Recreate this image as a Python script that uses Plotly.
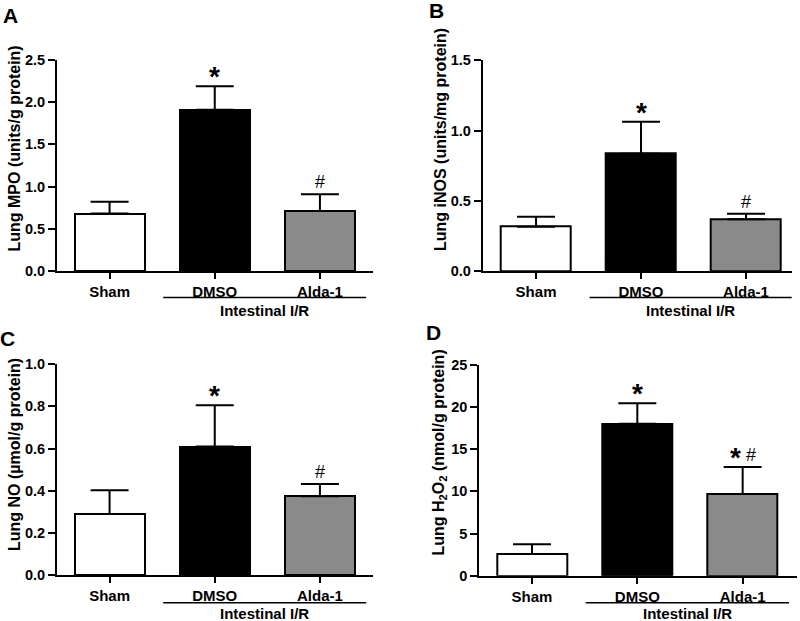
import plotly.graph_objects as go

# ---------------- data ----------------
categories = ["Sham", "DMSO", "Alda-1"]

mpo_mean = [0.68, 1.91, 0.71]
mpo_sem = [0.14, 0.28, 0.20]

inos_mean = [0.315, 0.835, 0.368]
inos_sem = [0.072, 0.228, 0.040]

no_mean = [0.290, 0.609, 0.374]
no_sem = [0.112, 0.196, 0.058]

h2o2_mean = [2.57, 18.03, 9.69]
h2o2_sem = [1.15, 2.42, 3.21]

mpo_marks = ["", "*", "#"]
inos_marks = ["", "*", "#"]
no_marks = ["", "*", "#"]
h2o2_marks = ["", "*", "*#"]

group_label = "Intestinal I/R"
bar_colors = ["white", "black", "#8a8a8a"]

W, H = 800, 621
FONT = "Liberation Sans, Arial, sans-serif"


def px(x):
    return x / W


def py(y):
    return 1 - y / H


panels = [
    dict(letter="A", mean=mpo_mean, sem=mpo_sem, marks=mpo_marks,
         title="Lung MPO (units/g protein)", yrange=[0, 2.5], dtick=0.5, fmt=".1f",
         x0=57, x1=372.5, ytop=60, ybot=271, xr=[-0.5, 2.5],
         title_xy=(14, 148.5), letter_xy=(10.5, 15.5), line_y=297.5, text_y=310),
    dict(letter="B", mean=inos_mean, sem=inos_sem, marks=inos_marks,
         title="Lung iNOS (units/mg protein)", yrange=[0, 1.5], dtick=0.5, fmt=".1f",
         x0=482.7, x1=791.7, ytop=60.3, ybot=271, xr=[-0.508, 2.435],
         title_xy=(440, 140), letter_xy=(436.5, 11), line_y=297.5, text_y=310),
    dict(letter="C", mean=no_mean, sem=no_sem, marks=no_marks,
         title="Lung NO (µmol/g protein)", yrange=[0, 1.0], dtick=0.2, fmt=".1f",
         x0=57, x1=372.5, ytop=364, ybot=575.3, xr=[-0.5, 2.5],
         title_xy=(14, 455), letter_xy=(7.5, 338.5), line_y=602.7, text_y=613),
    dict(letter="D", mean=h2o2_mean, sem=h2o2_sem, marks=h2o2_marks,
         title="Lung H<sub>2</sub>O<sub>2</sub> (nmol/g protein)", yrange=[0, 25], dtick=5, fmt="d",
         x0=479.3, x1=796.7, ytop=365, ybot=575.7, xr=[-0.5, 2.513],
         title_xy=(438.5, 453), letter_xy=(433.5, 332.5), line_y=602.7, text_y=613),
]

fig = go.Figure()
annotations = []
shapes = []

for i, p in enumerate(panels):
    k = "" if i == 0 else str(i + 1)
    xa, ya = "x" + k, "y" + k
    fig.add_trace(go.Bar(
        x=categories, y=p["mean"], xaxis=xa, yaxis=ya,
        width=0.667,
        marker=dict(color=bar_colors, line=dict(color="black", width=2)),
        error_y=dict(type="data", array=p["sem"], arrayminus=[0] * len(p["sem"]),
                     symmetric=False, color="black", thickness=2, width=19),
        showlegend=False, hoverinfo="skip",
    ))
    axis_common = dict(showline=True, linewidth=2, linecolor="black", ticks="outside",
                       tickwidth=2, tickcolor="black", showgrid=False, zeroline=False,
                       automargin=False, fixedrange=True)
    fig.update_layout(**{
        "xaxis" + k: dict(domain=[px(p["x0"]), px(p["x1"])], range=p["xr"], anchor=ya,
                          type="category", categoryarray=categories, ticklen=6,
                          tickfont=dict(family=FONT, size=15, color="black", weight="bold"),
                          **axis_common),
        "yaxis" + k: dict(domain=[py(p["ybot"]), py(p["ytop"])], range=p["yrange"], anchor=xa,
                          dtick=p["dtick"], tick0=0, tickformat=p["fmt"], ticklen=7,
                          tickfont=dict(family=FONT, size=14.5, color="black", weight="bold"),
                          **axis_common),
    })
    # y-axis title
    annotations.append(dict(text="<b>" + p["title"] + "</b>", xref="paper", yref="paper",
                            x=px(p["title_xy"][0]), y=py(p["title_xy"][1]), textangle=-90,
                            showarrow=False, xanchor="center", yanchor="middle",
                            font=dict(family=FONT, size=16, color="black")))
    # panel letter
    annotations.append(dict(text="<b>" + p["letter"] + "</b>", xref="paper", yref="paper",
                            x=px(p["letter_xy"][0]), y=py(p["letter_xy"][1]),
                            showarrow=False, xanchor="center", yanchor="middle",
                            font=dict(family=FONT, size=21, color="black")))
    # group bracket
    shapes.append(dict(type="line", xref=xa, yref="paper", x0=0.51, x1=2.44,
                       y0=py(p["line_y"]), y1=py(p["line_y"]),
                       line=dict(color="black", width=1.5)))
    annotations.append(dict(text="<b>" + group_label + "</b>", xref=xa, yref="paper",
                            x=(0.51 + 2.44) / 2, y=py(p["text_y"]), showarrow=False,
                            xanchor="center", yanchor="middle",
                            font=dict(family=FONT, size=15, color="black")))
    # significance marks
    for j, m in enumerate(p["marks"]):
        top = p["mean"][j] + p["sem"][j]
        if m == "*":
            annotations.append(dict(text="<b>*</b>", xref=xa, yref=ya, x=categories[j], y=top,
                                    showarrow=False, xanchor="center", yanchor="bottom",
                                    yshift=-8, font=dict(family=FONT, size=28, color="black")))
        elif m == "#":
            annotations.append(dict(text="#", xref=xa, yref=ya, x=categories[j], y=top,
                                    showarrow=False, xanchor="center", yanchor="bottom",
                                    yshift=0, font=dict(family=FONT, size=18, color="black")))
        elif m == "*#":
            annotations.append(dict(text="<b>*</b>", xref=xa, yref=ya, x=categories[j], y=top,
                                    showarrow=False, xanchor="center", yanchor="bottom",
                                    xshift=-7, yshift=-8,
                                    font=dict(family=FONT, size=28, color="black")))
            annotations.append(dict(text="#", xref=xa, yref=ya, x=categories[j], y=top,
                                    showarrow=False, xanchor="center", yanchor="bottom",
                                    xshift=8, yshift=0,
                                    font=dict(family=FONT, size=18, color="black")))

fig.update_layout(template="none", width=W, height=H,
                  margin=dict(l=0, r=0, t=0, b=0, pad=0, autoexpand=False),
                  paper_bgcolor="white", plot_bgcolor="white",
                  annotations=annotations, shapes=shapes, bargap=0, hovermode=False)

fig.write_html("out.html", config={"displayModeBar": False},
               post_script="document.body.style.margin='0';document.body.style.overflow='hidden';")
